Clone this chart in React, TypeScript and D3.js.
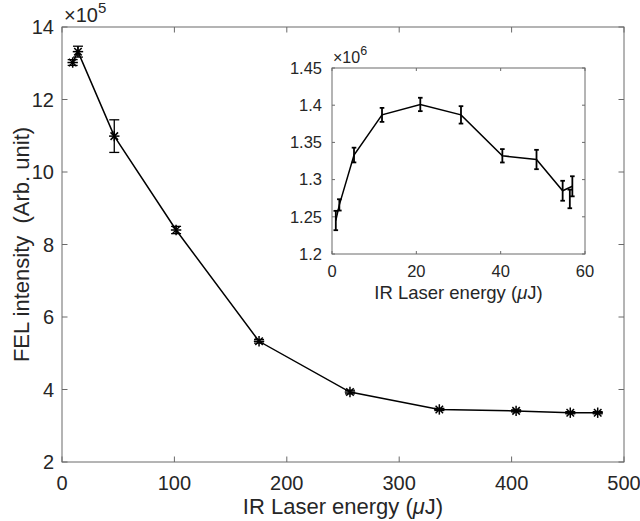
import React from "react";
import * as d3 from "d3";

// Main panel data (x in µJ, y in units of 1e5)
const mainX = [9.5, 14.2, 46.5, 101.5, 175.3, 256.2, 335.7, 404.0, 452.2, 476.6];
const mainY = [13.02, 13.32, 10.99, 8.4, 5.33, 3.93, 3.45, 3.41, 3.36, 3.36];
const mainErr = [0.08, 0.15, 0.45, 0.1, 0.05, 0.05, 0.03, 0.03, 0.03, 0.03];

// Inset data (x in µJ, y in units of 1e6)
const insetX = [0.9, 1.74, 5.22, 11.86, 20.94, 30.59, 40.4, 48.5, 54.7, 57.0];
const insetY = [1.245, 1.266, 1.333, 1.387, 1.401, 1.387, 1.332, 1.327, 1.285, 1.291];
const insetErr = [0.013, 0.0076, 0.0099, 0.0094, 0.009, 0.0117, 0.009, 0.013, 0.0134, 0.0135];
const insetExtraX = [56.4];
const insetExtraY = [1.274];
const insetExtraErr = [0.0125];

const mainXTicks = [0, 100, 200, 300, 400, 500];
const mainYTicks = [2, 4, 6, 8, 10, 12, 14];
const insetXTicks = [0, 20, 40, 60];
const insetYTicks = [1.2, 1.25, 1.3, 1.35, 1.4, 1.45];
const insetYTickLabels = ["1.2", "1.25", "1.3", "1.35", "1.4", "1.45"];

const FONT = "'Liberation Sans', Arial, Helvetica, sans-serif";
const AX = "#6a6a6a";
const TXT = "#262626";

function Star({ x, y, r }: { x: number; y: number; r: number }) {
  const d = r * 0.72;
  return (
    <g stroke="#000" strokeWidth={1.5}>
      <line x1={x - r} y1={y} x2={x + r} y2={y} />
      <line x1={x} y1={y - r} x2={x} y2={y + r} />
      <line x1={x - d} y1={y - d} x2={x + d} y2={y + d} />
      <line x1={x - d} y1={y + d} x2={x + d} y2={y - d} />
    </g>
  );
}

export default function App() {
  const W = 640, H = 521;
  // main axes
  const mL = 62, mR = 624, mT = 27, mB = 462;
  const xs = d3.scaleLinear().domain([0, 500]).range([mL, mR]);
  const ys = d3.scaleLinear().domain([2, 14]).range([mB, mT]);
  // inset axes
  const iL = 332, iR = 585, iT = 68, iB = 254;
  const xi = d3.scaleLinear().domain([0, 60]).range([iL, iR]);
  const yi = d3.scaleLinear().domain([1.2, 1.45]).range([iB, iT]);

  const mainLine = d3.line<number>().x((_, i) => xs(mainX[i])).y((v) => ys(v))(mainY) || "";
  const insetLine = d3.line<number>().x((_, i) => xi(insetX[i])).y((v) => yi(v))(insetY) || "";

  const tk = 5.5;
  const tki = 3;

  return (
    <svg width={W} height={H} style={{ position: "absolute", left: 0, top: 0, background: "#fff" }}
      fontFamily={FONT}>
      <rect x={0} y={0} width={W} height={H} fill="#fff" />
      {/* main plot */}
      <path d={mainLine} fill="none" stroke="#000" strokeWidth={1.5} />
      {mainX.map((xv, i) => {
        const cx = xs(xv);
        const y0 = ys(mainY[i] - mainErr[i]);
        const y1 = ys(mainY[i] + mainErr[i]);
        return (
          <g key={"me" + i} stroke="#000" strokeWidth={1.3}>
            <line x1={cx} x2={cx} y1={y0} y2={y1} />
            <line x1={cx - 5} x2={cx + 5} y1={y0} y2={y0} />
            <line x1={cx - 5} x2={cx + 5} y1={y1} y2={y1} />
          </g>
        );
      })}
      {mainX.map((xv, i) => (
        <Star key={"ms" + i} x={xs(xv)} y={ys(mainY[i])} r={5.2} />
      ))}
      {/* main axes frame & ticks */}
      <rect x={mL} y={mT} width={mR - mL} height={mB - mT} fill="none" stroke={AX} strokeWidth={1} />
      {mainXTicks.map((t) => (
        <g key={"mxt" + t} stroke={AX}>
          <line x1={xs(t)} x2={xs(t)} y1={mB} y2={mB - tk} />
          <line x1={xs(t)} x2={xs(t)} y1={mT} y2={mT + tk} />
        </g>
      ))}
      {mainYTicks.map((t) => (
        <g key={"myt" + t} stroke={AX}>
          <line x1={mL} x2={mL + tk} y1={ys(t)} y2={ys(t)} />
          <line x1={mR} x2={mR - tk} y1={ys(t)} y2={ys(t)} />
        </g>
      ))}
      {mainXTicks.map((t) => (
        <text key={"mxl" + t} x={xs(t)} y={490} textAnchor="middle" fontSize={20} fill={TXT}>{t}</text>
      ))}
      {mainYTicks.map((t) => (
        <text key={"myl" + t} x={54} y={ys(t)} dy="0.35em" textAnchor="end" fontSize={20} fill={TXT}>{t}</text>
      ))}
      <text x={64} y={22} fontSize={20} fill={TXT}>×10<tspan dy={-9} fontSize={15}>5</tspan></text>
      <text x={(mL + mR) / 2} y={514} textAnchor="middle" fontSize={22} fill={TXT}>
        IR Laser energy (<tspan fontStyle="italic">μ</tspan>J)
      </text>
      <text transform={`translate(29, ${(mT + mB) / 2}) rotate(-90)`} textAnchor="middle" fontSize={22} fill={TXT}
        style={{ whiteSpace: "pre" }}>
        {"FEL intensity  (Arb. unit)"}
      </text>

      {/* inset */}
      <rect x={iL} y={iT} width={iR - iL} height={iB - iT} fill="#fff" />
      <path d={insetLine} fill="none" stroke="#000" strokeWidth={1.5} />
      {[...insetX.map((x, i) => [x, insetY[i], insetErr[i]]), ...insetExtraX.map((x, i) => [x, insetExtraY[i], insetExtraErr[i]])].map(
        ([xv, yv, ev], i) => {
          const cx = xi(xv);
          const y0 = yi(yv - ev);
          const y1 = yi(yv + ev);
          return (
            <g key={"ie" + i} stroke="#000" strokeWidth={1.8}>
              <line x1={cx} x2={cx} y1={y0} y2={y1} />
              <line x1={cx - 2.3} x2={cx + 2.3} y1={y0} y2={y0} />
              <line x1={cx - 2.3} x2={cx + 2.3} y1={y1} y2={y1} />
            </g>
          );
        }
      )}
      <rect x={iL} y={iT} width={iR - iL} height={iB - iT} fill="none" stroke={AX} strokeWidth={1} />
      {insetXTicks.map((t) => (
        <g key={"ixt" + t} stroke={AX}>
          <line x1={xi(t)} x2={xi(t)} y1={iB} y2={iB - tki} />
          <line x1={xi(t)} x2={xi(t)} y1={iT} y2={iT + tki} />
        </g>
      ))}
      {insetYTicks.map((t) => (
        <g key={"iyt" + t} stroke={AX}>
          <line x1={iL} x2={iL + tki} y1={yi(t)} y2={yi(t)} />
          <line x1={iR} x2={iR - tki} y1={yi(t)} y2={yi(t)} />
        </g>
      ))}
      {insetXTicks.map((t) => (
        <text key={"ixl" + t} x={xi(t)} y={277} textAnchor="middle" fontSize={16.5} fill={TXT}>{t}</text>
      ))}
      {insetYTicks.map((t, i) => (
        <text key={"iyl" + t} x={322} y={yi(t)} dy="0.35em" textAnchor="end" fontSize={16.5} fill={TXT}>{insetYTickLabels[i]}</text>
      ))}
      <text x={333} y={63} fontSize={16} fill={TXT}>×10<tspan dy={-8} fontSize={12.5}>6</tspan></text>
      <text x={(iL + iR) / 2} y={299} textAnchor="middle" fontSize={18.5} fill={TXT}>
        IR Laser energy (<tspan fontStyle="italic">μ</tspan>J)
      </text>
    </svg>
  );
}
